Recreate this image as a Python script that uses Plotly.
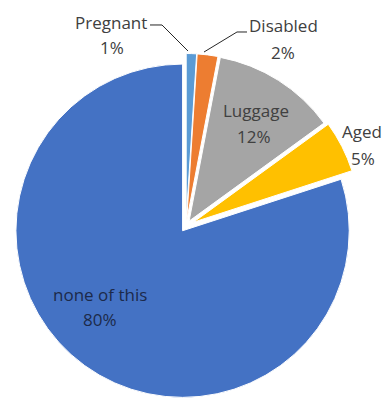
import plotly.graph_objects as go

# Data
categories = ["Pregnant", "Disabled", "Luggage", "Aged", "none of this"]
values = [1, 2, 12, 5, 80]
percent_labels = ["1%", "2%", "12%", "5%", "80%"]
colors = ["#5B9BD5", "#ED7D31", "#A5A5A5", "#FFC000", "#4472C4"]
pulls = [0.035, 0.035, 0.035, 0.05, 0.035]

W, H = 388, 401

fig = go.Figure()
fig.add_trace(go.Pie(
    labels=categories,
    values=values,
    sort=False,
    direction="clockwise",
    rotation=0,
    pull=pulls,
    marker=dict(colors=colors, line=dict(color="white", width=1)),
    textinfo="none",
    hoverinfo="label+percent",
    showlegend=False,
    domain=dict(x=[0.0284, 0.9304], y=[0.0, 0.8728]),
))

def px(x, y):
    return x / W, 1 - y / H

# label positions (pixel centers) : (name line, pct line)
label_pos = {
    "Pregnant": ((111, 22), (112, 47), "#404040"),
    "Disabled": ((283, 26), (283, 52), "#404040"),
    "Luggage": ((256, 111), (254, 136), "#404040"),
    "Aged": ((362, 132), (363, 158), "#404040"),
    "none of this": ((100, 294), (100, 319), "#1c2a4a"),
}
for cat, pct in zip(categories, percent_labels):
    (nx, ny), (qx, qy), col = label_pos[cat]
    for text, (x, y) in ((cat, (nx, ny)), (pct, (qx, qy))):
        ax, ay = px(x, y)
        fig.add_annotation(x=ax, y=ay, xref="paper", yref="paper",
                           text=text, showarrow=False,
                           xanchor="center", yanchor="middle",
                           font=dict(family="Open Sans", size=17, color=col))

# leader lines
leaders = [
    [(150, 25), (162, 25), (188, 51)],
    [(247, 32), (237, 32), (204, 52)],
]
for pts in leaders:
    path = "M " + " L ".join(f"{px(x, y)[0]:.4f},{px(x, y)[1]:.4f}" for x, y in pts)
    fig.add_shape(type="path", path=path, xref="paper", yref="paper",
                  line=dict(color="#262626", width=1))

fig.update_layout(
    width=W, height=H,
    margin=dict(l=0, r=0, t=0, b=0),
    paper_bgcolor="white",
    plot_bgcolor="white",
)
fig.write_html("out.html")
